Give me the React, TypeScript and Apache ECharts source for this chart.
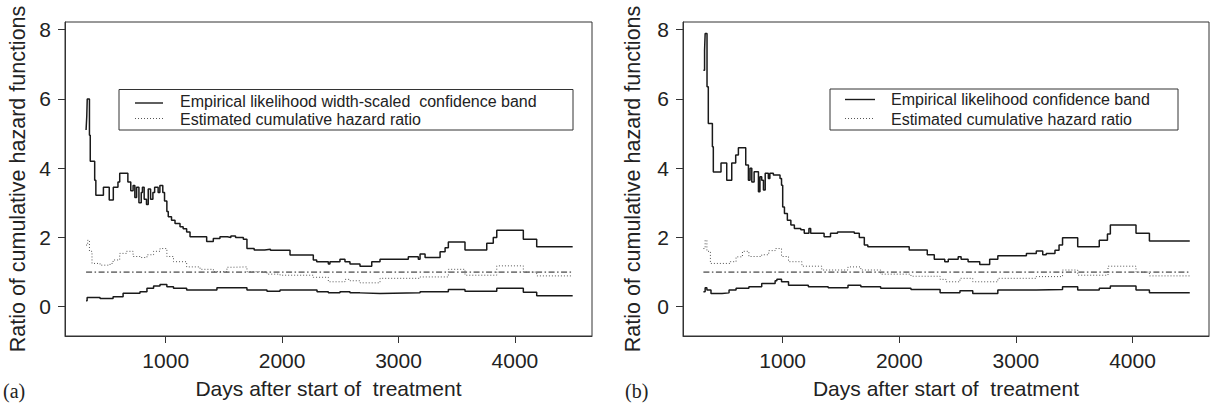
import React, { useEffect, useRef } from "react";
import * as echarts from "echarts";

// ---------- data (days after start, value) ----------
const xTicks = [1000, 2000, 3000, 4000];
const yTicks = [0, 2, 4, 6, 8];

const leftUpperDays = [316, 322, 326, 345, 352, 390, 400, 465, 515, 550, 590, 605, 675, 700, 720, 735, 750, 770, 790, 800, 815, 835, 850, 870, 890, 905, 935, 950, 975, 990, 1010, 1022, 1050, 1080, 1123, 1150, 1180, 1209, 1352, 1409, 1466, 1530, 1560, 1600, 1667, 1698, 1760, 1850, 1900, 2068, 2268, 2297, 2397, 2411, 2497, 2540, 2583, 2669, 2770, 2841, 3084, 3170, 3185, 3228, 3357, 3400, 3428, 3571, 3758, 3814, 3844, 4072, 4187, 4496];
const leftUpperVals = [5.1, 5.5, 6.0, 4.95, 4.2, 3.65, 3.22, 3.45, 3.08, 3.45, 3.6, 3.85, 3.6, 3.35, 3.5, 3.15, 3.45, 3.0, 3.3, 3.45, 3.1, 2.95, 3.4, 3.1, 3.3, 3.45, 3.3, 3.5, 3.3, 3.05, 2.75, 2.6, 2.5, 2.4, 2.31, 2.25, 2.16, 2.02, 1.88, 1.97, 2.02, 2.0, 2.04, 2.0, 1.95, 1.68, 1.64, 1.66, 1.63, 1.49, 1.35, 1.3, 1.23, 1.3, 1.37, 1.3, 1.23, 1.17, 1.3, 1.37, 1.44, 1.37, 1.52, 1.42, 1.59, 1.7, 1.87, 1.64, 1.83, 2.0, 2.21, 1.95, 1.73, 1.73];

const leftLowerDays = [316, 325, 436, 548, 634, 779, 839, 896, 951, 1010, 1067, 1180, 1440, 1698, 1870, 1982, 2300, 2397, 2497, 2583, 2669, 2841, 3185, 3428, 3571, 3844, 4072, 4187, 4496];
const leftLowerVals = [0.17, 0.27, 0.24, 0.29, 0.39, 0.43, 0.53, 0.6, 0.645, 0.58, 0.53, 0.48, 0.55, 0.48, 0.45, 0.48, 0.43, 0.4, 0.43, 0.4, 0.38, 0.4, 0.43, 0.5, 0.45, 0.53, 0.42, 0.32, 0.32];

const leftEstDays = [316, 330, 345, 367, 436, 522, 548, 605, 663, 720, 780, 839, 896, 951, 1010, 1067, 1180, 1295, 1410, 1526, 1583, 1698, 1870, 1982, 2268, 2397, 2540, 2583, 2669, 2841, 3185, 3428, 3571, 3844, 4072, 4187, 4496];
const leftEstVals = [1.78, 1.92, 1.6, 1.25, 1.2, 1.25, 1.35, 1.54, 1.6, 1.45, 1.42, 1.5, 1.6, 1.68, 1.45, 1.3, 1.15, 1.08, 1.01, 1.14, 1.15, 1.01, 0.94, 0.91, 0.85, 0.72, 0.79, 0.75, 0.69, 0.82, 0.86, 1.08, 0.91, 1.18, 1.0, 0.89, 0.89];

const rightUpperDays = [320, 330, 335, 351, 362, 397, 405, 471, 520, 563, 597, 620, 683, 706, 720, 735, 755, 792, 805, 820, 835, 850, 877, 890, 920, 977, 990, 1000, 1015, 1040, 1070, 1100, 1155, 1185, 1225, 1240, 1355, 1410, 1470, 1614, 1657, 1700, 1730, 2085, 2240, 2300, 2390, 2420, 2505, 2530, 2590, 2690, 2775, 2845, 3090, 3175, 3230, 3260, 3335, 3370, 3400, 3530, 3715, 3785, 3810, 4030, 4145, 4491];
const rightUpperVals = [6.83, 7.4, 7.89, 6.35, 5.29, 4.62, 3.89, 4.15, 3.65, 4.15, 4.38, 4.59, 4.09, 3.65, 4.0, 3.6, 3.9, 3.32, 3.75, 3.65, 3.37, 3.85, 3.7, 3.85, 3.8, 3.7, 3.51, 2.88, 2.69, 2.5, 2.36, 2.26, 2.22, 2.12, 2.26, 2.12, 2.02, 2.12, 2.16, 2.12, 2.0, 1.78, 1.73, 1.64, 1.5, 1.37, 1.3, 1.37, 1.44, 1.37, 1.3, 1.22, 1.37, 1.47, 1.54, 1.61, 1.5, 1.54, 1.63, 1.78, 1.99, 1.73, 1.92, 2.1, 2.36, 2.12, 1.9, 1.9];

const rightLowerDays = [320, 335, 350, 385, 480, 540, 600, 710, 820, 935, 950, 990, 1050, 1220, 1390, 1560, 1670, 1840, 2100, 2350, 2520, 2630, 2845, 3175, 3400, 3530, 3715, 3810, 4030, 4145, 4491];
const rightLowerVals = [0.43, 0.55, 0.48, 0.38, 0.4, 0.48, 0.53, 0.58, 0.67, 0.75, 0.79, 0.72, 0.62, 0.58, 0.55, 0.62, 0.58, 0.53, 0.5, 0.4, 0.46, 0.38, 0.48, 0.5, 0.58, 0.48, 0.53, 0.6, 0.48, 0.4, 0.4];

const rightEstDays = [320, 335, 350, 380, 550, 600, 655, 710, 820, 880, 935, 990, 1050, 1165, 1335, 1560, 1670, 1840, 2100, 2350, 2400, 2520, 2630, 2845, 3175, 3400, 3530, 3790, 4030, 4145, 4491];
const rightEstVals = [1.68, 1.92, 1.6, 1.25, 1.3, 1.44, 1.6, 1.45, 1.5, 1.62, 1.68, 1.45, 1.3, 1.17, 1.06, 1.15, 1.06, 0.94, 0.88, 0.79, 0.72, 0.82, 0.72, 0.82, 0.87, 1.06, 0.91, 1.17, 1.0, 0.89, 0.89];

const leftRefDays = [316, 4496];
const rightRefDays = [320, 4491];
const refVals = [1, 1];

const leftBandName = "Empirical likelihood width-scaled  confidence band";
const rightBandName = "Empirical likelihood confidence band";
const estName = "Estimated cumulative hazard ratio";
const xTitle = "Days after start of  treatment";
const yTitle = "Ratio of cumulative hazard functions";

// ---------- helpers ----------
const zip = (d: number[], v: number[]) => d.map((x, i) => [x, v[i]]);

const SANS = "'Liberation Sans', Arial, Helvetica, sans-serif";
const SERIF = "'Liberation Serif', 'Times New Roman', serif";
const INK = "#222";
const BOX = "#333";

function makeXAxis(gridIndex: number, min: number, max: number) {
  return {
    type: "value",
    gridIndex,
    min,
    max,
    splitLine: { show: false },
    axisLine: { show: true, onZero: false, lineStyle: { color: BOX, width: 1 } },
    axisTick: { show: true, length: 7, customValues: xTicks, lineStyle: { color: BOX, width: 1 } },
    axisLabel: {
      customValues: xTicks,
      formatter: (v: number) => String(v),
      fontSize: 21,
      fontFamily: SANS,
      color: INK,
      margin: 14,
    },
    name: xTitle,
    nameLocation: "middle",
    nameGap: 42,
    nameTextStyle: { fontSize: 21, fontFamily: SANS, color: INK },
  };
}

function makeYAxis(gridIndex: number, nameGap: number) {
  return {
    type: "value",
    gridIndex,
    min: -0.845,
    max: 8.22,
    splitLine: { show: false },
    axisLine: { show: true, onZero: false, lineStyle: { color: BOX, width: 1 } },
    axisTick: { show: true, length: 7, customValues: yTicks, lineStyle: { color: BOX, width: 1 } },
    axisLabel: {
      customValues: yTicks,
      formatter: (v: number) => String(v),
      fontSize: 21,
      fontFamily: SANS,
      color: INK,
      margin: 14,
    },
    name: yTitle,
    nameLocation: "middle",
    nameGap,
    nameTextStyle: { fontSize: 21.5, fontFamily: SANS, color: INK },
  };
}

function bandSeries(name: string, idx: number, data: number[][]) {
  return {
    name,
    type: "line",
    xAxisIndex: idx,
    yAxisIndex: idx,
    step: "end",
    symbol: "none",
    data,
    lineStyle: { color: "#1a1a1a", width: 1.5 },
    z: 4,
  };
}

function estSeries(idx: number, data: number[][]) {
  return {
    name: estName,
    type: "line",
    xAxisIndex: idx,
    yAxisIndex: idx,
    step: "end",
    symbol: "none",
    data,
    lineStyle: { color: "#555", width: 1, type: [1, 2] },
    z: 3,
  };
}

function refSeries(idx: number, data: number[][]) {
  return {
    name: "reference",
    type: "line",
    xAxisIndex: idx,
    yAxisIndex: idx,
    symbol: "none",
    data,
    lineStyle: { color: "#1a1a1a", width: 1, type: [6, 2.5, 1.5, 2.5] },
    z: 2,
  };
}

function legendGraphic(
  bx: number, by: number, bw: number, bh: number,
  lx1: number, lx2: number, ly1: number, ly2: number,
  tx: number, ty1: number, ty2: number, label: string
) {
  return [
    { type: "rect", z: 10, shape: { x: bx, y: by, width: bw, height: bh }, style: { fill: "#fff", stroke: BOX, lineWidth: 1 } },
    { type: "line", z: 11, shape: { x1: lx1, y1: ly1, x2: lx2, y2: ly1 }, style: { stroke: "#1a1a1a", lineWidth: 1.4 } },
    { type: "line", z: 11, shape: { x1: lx1, y1: ly2, x2: lx2, y2: ly2 }, style: { stroke: "#555", lineWidth: 1, lineDash: [1, 2] } },
    { type: "text", z: 11, x: tx, y: ty1, style: { text: label, fontSize: 16, fontFamily: SANS, fill: INK, verticalAlign: "middle", align: "left" } },
    { type: "text", z: 11, x: tx, y: ty2, style: { text: estName, fontSize: 16, fontFamily: SANS, fill: INK, verticalAlign: "middle", align: "left" } },
  ];
}

export default function App() {
  const ref = useRef<HTMLDivElement>(null);
  useEffect(() => {
    if (!ref.current) return;
    const chart = echarts.init(ref.current, undefined, { renderer: "svg" });
    const option = {
      animation: false,
      backgroundColor: "#fff",
      grid: [
        { left: 65, top: 22, width: 527, height: 314, show: true, borderColor: BOX, borderWidth: 1, backgroundColor: "transparent" },
        { left: 683, top: 22, width: 526, height: 314, show: true, borderColor: BOX, borderWidth: 1, backgroundColor: "transparent" },
      ],
      xAxis: [makeXAxis(0, 135, 4662), makeXAxis(1, 145, 4656)],
      yAxis: [makeYAxis(0, 36), makeYAxis(1, 39)],
      series: [
        refSeries(0, zip(leftRefDays, refVals)),
        estSeries(0, zip(leftEstDays, leftEstVals)),
        bandSeries(leftBandName, 0, zip(leftUpperDays, leftUpperVals)),
        bandSeries(leftBandName, 0, zip(leftLowerDays, leftLowerVals)),
        refSeries(1, zip(rightRefDays, refVals)),
        estSeries(1, zip(rightEstDays, rightEstVals)),
        bandSeries(rightBandName, 1, zip(rightUpperDays, rightUpperVals)),
        bandSeries(rightBandName, 1, zip(rightLowerDays, rightLowerVals)),
      ],
      graphic: [
        ...legendGraphic(119, 89.5, 454, 40.5, 135, 163, 103, 118.5, 180, 101, 119, leftBandName),
        ...legendGraphic(830, 89, 348, 41, 845, 875, 99.5, 118.5, 891, 99.5, 119.5, rightBandName),
        { type: "text", x: 3, y: 391, style: { text: "(a)", fontSize: 20, fontFamily: SERIF, fill: INK, verticalAlign: "middle" } },
        { type: "text", x: 625, y: 391, style: { text: "(b)", fontSize: 20, fontFamily: SERIF, fill: INK, verticalAlign: "middle" } },
      ],
    };
    chart.setOption(option as any);
    return () => chart.dispose();
  }, []);
  return (
    <div
      ref={ref}
      style={{ position: "fixed", left: 0, top: 0, width: 1212, height: 405, background: "#fff" }}
    />
  );
}
